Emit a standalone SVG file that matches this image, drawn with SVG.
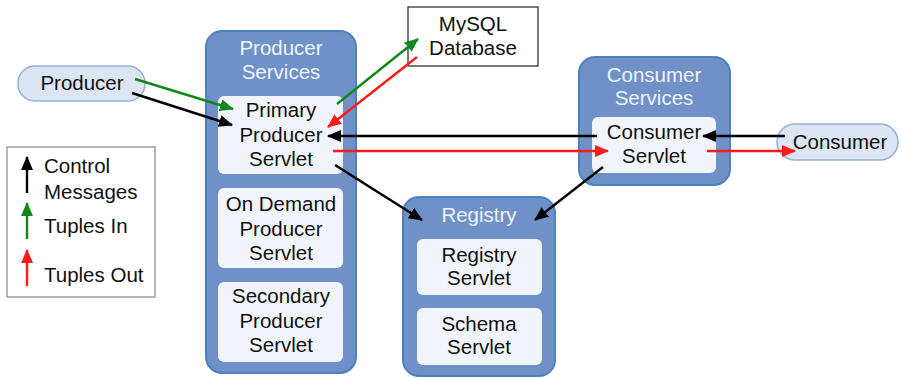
<svg xmlns="http://www.w3.org/2000/svg" width="902" height="378" viewBox="0 0 902 378">
<style>
text{font-family:"Liberation Sans",Arial,sans-serif;font-size:20.5px;text-anchor:middle;fill:#111}
.outer{fill:#6f91c8;stroke:#4f80c0;stroke-width:2}
.inner{fill:#f1f5fb;stroke:none}
.pill{fill:#dbe5f3;stroke:#94b0d8;stroke-width:1.5}
.title{fill:#eef3fc}
.k{stroke:#000;stroke-width:2.4;fill:none}
.g{stroke:#14871a;stroke-width:2.4;fill:none}
.r{stroke:#ff1a1a;stroke-width:2.4;fill:none}
</style>
<defs>
<marker id="ak" viewBox="0 0 14 12" refX="13" refY="6" markerWidth="14" markerHeight="12" markerUnits="userSpaceOnUse" orient="auto"><path d="M0,0L14,6L0,12z" fill="#000"/></marker>
<marker id="ag" viewBox="0 0 14 12" refX="13" refY="6" markerWidth="14" markerHeight="12" markerUnits="userSpaceOnUse" orient="auto"><path d="M0,0L14,6L0,12z" fill="#14871a"/></marker>
<marker id="ar" viewBox="0 0 14 12" refX="13" refY="6" markerWidth="14" markerHeight="12" markerUnits="userSpaceOnUse" orient="auto"><path d="M0,0L14,6L0,12z" fill="#ff1a1a"/></marker>
</defs>
<rect width="902" height="378" fill="#fff"/>

<g id="legend">
<rect x="7" y="147" width="148" height="150" fill="#fff" stroke="#888" stroke-width="1.2"/>
<line class="k" x1="27" y1="193" x2="27" y2="157" marker-end="url(#ak)"/>
<line class="g" x1="27" y1="239" x2="27" y2="203" marker-end="url(#ag)"/>
<line class="r" x1="27" y1="286" x2="27" y2="250" marker-end="url(#ar)"/>
<text x="44" y="173" style="text-anchor:start">Control</text>
<text x="44" y="199" style="text-anchor:start">Messages</text>
<text x="44" y="233" style="text-anchor:start">Tuples In</text>
<text x="44" y="282" style="text-anchor:start">Tuples Out</text>
</g>

<g id="producer">
<rect class="pill" x="18" y="66" width="127" height="35" rx="17"/>
<text x="82" y="90">Producer</text>
</g>

<g id="mysql">
<rect x="408" y="7" width="130" height="59" fill="#fff" stroke="#333" stroke-width="1.3"/>
<text x="473" y="31">MySQL</text>
<text x="473" y="55">Database</text>
</g>

<g id="producer-services">
<rect class="outer" x="206" y="31" width="150" height="342" rx="16"/>
<text class="title" x="281" y="55">Producer</text>
<text class="title" x="281" y="79">Services</text>
</g>
<g id="primary-producer-servlet">
<rect class="inner" x="218" y="96" width="125" height="78" rx="6"/>
<text x="281" y="117">Primary</text>
<text x="281" y="142">Producer</text>
<text x="281" y="166">Servlet</text>
</g>
<g id="on-demand-producer-servlet">
<rect class="inner" x="218" y="188" width="125" height="80" rx="6"/>
<text x="281" y="211">On Demand</text>
<text x="281" y="236">Producer</text>
<text x="281" y="260">Servlet</text>
</g>
<g id="secondary-producer-servlet">
<rect class="inner" x="218" y="282" width="125" height="80" rx="6"/>
<text x="281" y="303">Secondary</text>
<text x="281" y="328">Producer</text>
<text x="281" y="352">Servlet</text>
</g>

<g id="registry">
<rect class="outer" x="403" y="197" width="152" height="179" rx="16"/>
<text class="title" x="479" y="222">Registry</text>
</g>
<g id="registry-servlet">
<rect class="inner" x="417" y="239" width="125" height="56" rx="6"/>
<text x="479" y="262">Registry</text>
<text x="479" y="285">Servlet</text>
</g>
<g id="schema-servlet">
<rect class="inner" x="417" y="308" width="125" height="57" rx="6"/>
<text x="479" y="331">Schema</text>
<text x="479" y="354">Servlet</text>
</g>

<g id="consumer-services">
<rect class="outer" x="579" y="57" width="151" height="128" rx="16"/>
<text class="title" x="654" y="82">Consumer</text>
<text class="title" x="654" y="105">Services</text>
</g>
<g id="consumer-servlet">
<rect class="inner" x="592" y="117" width="124" height="56" rx="6"/>
<text x="654" y="139">Consumer</text>
<text x="654" y="163">Servlet</text>
</g>

<g id="consumer">
<rect class="pill" x="777" y="124" width="121" height="36" rx="18"/>
<text x="840" y="149">Consumer</text>
</g>

<g id="connectors">
<line class="g" x1="135" y1="79" x2="233" y2="109" marker-end="url(#ag)"/>
<line class="k" x1="132" y1="93" x2="232" y2="125" marker-end="url(#ak)"/>
<line class="g" x1="337" y1="104" x2="418" y2="39" marker-end="url(#ag)"/>
<line class="r" x1="417" y1="57" x2="328" y2="127" marker-end="url(#ar)"/>
<line class="k" x1="597" y1="136" x2="328" y2="136" marker-end="url(#ak)"/>
<line class="r" x1="333" y1="151" x2="608" y2="151" marker-end="url(#ar)"/>
<line class="k" x1="785" y1="136" x2="703" y2="136" marker-end="url(#ak)"/>
<line class="r" x1="707" y1="151" x2="795" y2="151" marker-end="url(#ar)"/>
<line class="k" x1="335" y1="165" x2="422" y2="220" marker-end="url(#ak)"/>
<line class="k" x1="603" y1="167" x2="535" y2="220" marker-end="url(#ak)"/>
</g>
</svg>
